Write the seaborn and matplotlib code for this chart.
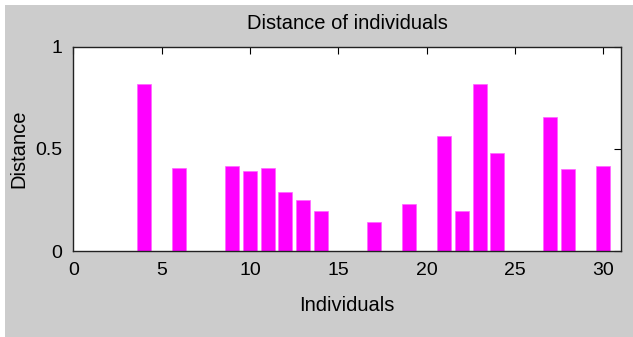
#!/usr/bin/env python3

# Import libraries
import numpy as np
import matplotlib
matplotlib.use('Agg')
import matplotlib.pyplot as plt
from matplotlib.patches import Rectangle
import seaborn as sns

# Data
individuals = [4, 6, 9, 10, 11, 12, 13, 14, 17, 19, 21, 22, 23, 24, 27, 28, 30]
distance = [0.816, 0.408, 0.416, 0.392, 0.408, 0.290, 0.251, 0.196,
            0.140, 0.228, 0.563, 0.196, 0.816, 0.478, 0.657, 0.400, 0.416]
xticks = [0, 5, 10, 15, 20, 25, 30]
yticks = [0, 0.5, 1]
yticklabels = ['0', '0.5', '1']

sns.set_style('white')
plt.rcParams['font.family'] = ['Liberation Sans', 'DejaVu Sans']
plt.rcParams['text.color'] = 'black'
plt.rcParams['axes.labelcolor'] = 'black'

fig = plt.figure(figsize=(6.33, 3.37), dpi=100, facecolor='white')
# matlab style grey window, white strip at top and left
fig.patches.append(Rectangle((5 / 633, 0), 1, 1 - 5 / 337, transform=fig.transFigure,
                             facecolor='#cccccc', edgecolor='none', zorder=-10))
ax = fig.add_axes([73.3 / 633, 1 - 251 / 337, (621 - 73.3) / 633, (251 - 46.7) / 337])

sns.barplot(x=individuals, y=distance, native_scale=True, width=0.8,
            color='#ff00ff', saturation=1, ax=ax, edgecolor='#ff66ff', linewidth=0.5)

ax.set_xlim(0, 31)
ax.set_ylim(0, 1)
ax.set_xticks(xticks)
ax.set_xticklabels([str(t) for t in xticks])
ax.set_yticks(yticks)
ax.set_yticklabels(yticklabels)
ax.tick_params(direction='in', top=True, right=True, length=5, width=0.8,
               labelsize=14, colors='black', pad=8)
for sp in ax.spines.values():
    sp.set_visible(True)
    sp.set_color('#222222')
    sp.set_linewidth(1)

ax.set_title('Distance of individuals', fontsize=14.5, pad=13, color='black')
ax.set_xlabel('Individuals', fontsize=14.5, labelpad=12)
ax.set_ylabel('Distance', fontsize=14.5, labelpad=5)

fig.savefig('out.png', dpi=100, facecolor=fig.get_facecolor())
